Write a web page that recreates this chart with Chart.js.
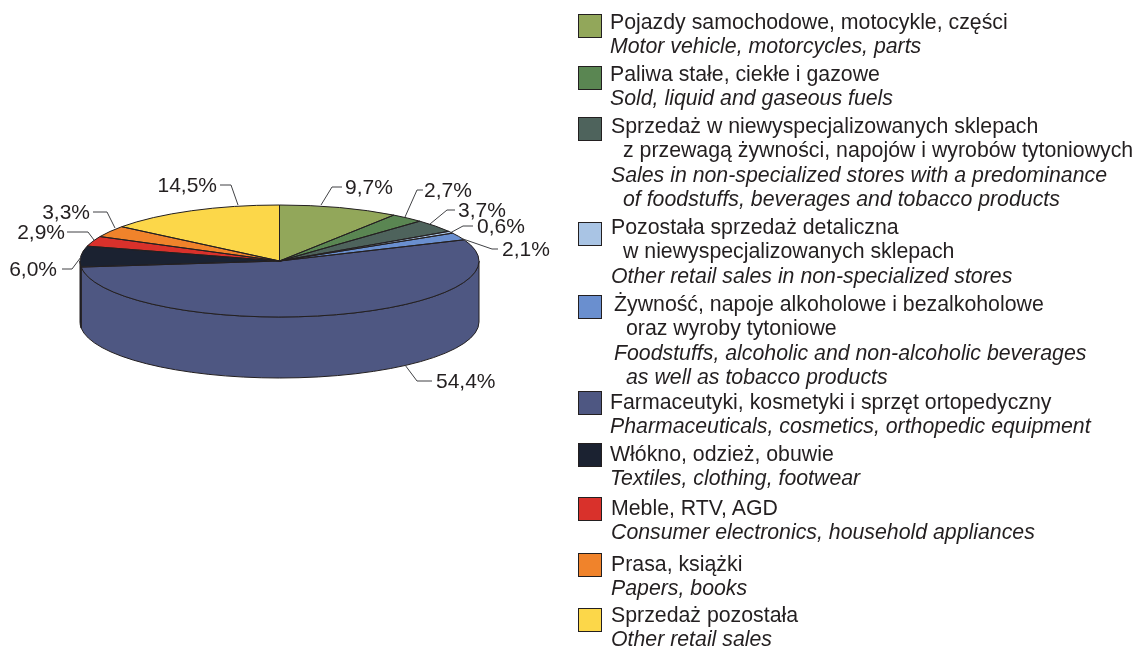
<!DOCTYPE html>
<html>
<head>
<meta charset="utf-8">
<script src="https://cdn.jsdelivr.net/npm/chart.js@4"></script>
<style>
  html, body { margin: 0; padding: 0; background: #fff; }
  #wrap { position: relative; width: 1137px; height: 648px; overflow: hidden; }
  #pie { position: absolute; left: 0; top: 0; }
  .swatch { position: absolute; left: 578px; width: 22px; height: 22px; border: 1px solid #231f20; }
  .line { position: absolute; white-space: pre; color: #231f20; height: 24px;
          font: 21.3px/24px "Liberation Sans", Arial, sans-serif; }
  .line.en { font-style: italic; }
</style>
</head>
<body>
<div id="wrap"><canvas id="pie" width="1137" height="648"></canvas></div>
<script>
const values = [9.7, 2.7, 3.7, 0.6, 2.1, 54.4, 6.0, 2.9, 3.3, 14.5];
const valueLabels = ["9,7%", "2,7%", "3,7%", "0,6%", "2,1%", "54,4%", "6,0%", "2,9%", "3,3%", "14,5%"];
const colors = ["#92a75a", "#5a8652", "#4e635c", "#a9c4e4", "#6a8fcf", "#4e5782", "#1b2231", "#d9312b", "#f0832b", "#fcd749"];

const polishNames = [
    ["Pojazdy samochodowe, motocykle, części"],
    ["Paliwa stałe, ciekłe i gazowe"],
    ["Sprzedaż w niewyspecjalizowanych sklepach", "z przewagą żywności, napojów i wyrobów tytoniowych"],
    ["Pozostała sprzedaż detaliczna", "w niewyspecjalizowanych sklepach"],
    ["Żywność, napoje alkoholowe i bezalkoholowe", "oraz wyroby tytoniowe"],
    ["Farmaceutyki, kosmetyki i sprzęt ortopedyczny"],
    ["Włókno, odzież, obuwie"],
    ["Meble, RTV, AGD"],
    ["Prasa, książki"],
    ["Sprzedaż pozostała"]
];
const englishNames = [
    ["Motor vehicle, motorcycles, parts"],
    ["Sold, liquid and gaseous fuels"],
    ["Sales in non-specialized stores with a predominance", "of foodstuffs, beverages and tobacco products"],
    ["Other retail sales in non-specialized stores"],
    ["Foodstuffs, alcoholic and non-alcoholic beverages", "as well as tobacco products"],
    ["Pharmaceuticals, cosmetics, orthopedic equipment"],
    ["Textiles, clothing, footwear"],
    ["Consumer electronics, household appliances"],
    ["Papers, books"],
    ["Other retail sales"]
];

// layout of the legend (y of swatch top, y of first text line centre, left of text)
const swatchTops = [14, 66, 117, 222, 295, 391, 443, 497, 553, 608];
const textTops = [22, 74, 126, 227, 304, 402, 454, 508, 564, 615];
const textLefts = [610, 610, 611, 611, 614, 610, 610, 611, 611, 611];

// leader lines: text anchor side first, then elbow, then point on the pie edge
const leaders = [
    [[342, 187], [332, 187], [321, 205]],
    [[423, 190], [417, 190], [405, 217]],
    [[455, 210], [447, 210], [430, 224]],
    [[473, 226], [463, 226], [450, 233]],
    [[498, 249], [492, 249], [463, 239]],
    [[432, 381], [417, 381], [405, 365]],
    [[62, 269], [72, 269], [81, 257]],
    [[67, 232], [88, 232], [94, 240]],
    [[93, 212], [107, 212], [115, 228]],
    [[220, 185], [231, 185], [238, 205]]
];
const labelAlign = ["left", "left", "left", "left", "left", "left", "right", "right", "right", "right"];
const labelNudge = [3, 1, 3, 4, 4, 4, -5, -2, -3, -3];

const centerY = 261, radiusY = 56, depth = 61, radiusX = 199.5;
const squash = radiusY / radiusX;
const ink = "#231f20";

function squashed(ctx, fn) {
    ctx.save();
    ctx.translate(0, centerY);
    ctx.scale(1, squash);
    ctx.translate(0, -centerY);
    fn();
    ctx.restore();
}

const tiltPlugin = {
    id: "tilt",
    beforeDatasetsDraw(chart) {
        const ctx = chart.ctx;
        const arcs = chart.getDatasetMeta(0).data;
        // side wall, only the half facing the viewer
        arcs.forEach(function (arc, i) {
            const s = Math.max(arc.startAngle, 0);
            const e = Math.min(arc.endAngle, Math.PI);
            if (e <= s) return;
            squashed(ctx, function () {
                ctx.beginPath();
                ctx.arc(arc.x, arc.y + depth / squash, arc.outerRadius, s, e);
                ctx.arc(arc.x, arc.y, arc.outerRadius, e, s, true);
                ctx.closePath();
            });
            ctx.fillStyle = colors[i];
            ctx.fill();
            ctx.strokeStyle = ink;
            ctx.lineWidth = 1;
            ctx.stroke();
        });
        ctx.save();
        ctx.translate(0, centerY);
        ctx.scale(1, squash);
        ctx.translate(0, -centerY);
    },
    afterDatasetsDraw(chart) {
        const ctx = chart.ctx;
        ctx.restore();
        const arcs = chart.getDatasetMeta(0).data;
        ctx.strokeStyle = ink;
        ctx.lineWidth = 1;
        arcs.forEach(function (arc) {
            squashed(ctx, function () {
                ctx.beginPath();
                ctx.moveTo(arc.x, arc.y);
                ctx.arc(arc.x, arc.y, arc.outerRadius, arc.startAngle, arc.endAngle);
                ctx.closePath();
            });
            ctx.stroke();
        });
        ctx.strokeStyle = "#404144";
        leaders.forEach(function (pts) {
            ctx.beginPath();
            ctx.moveTo(pts[0][0], pts[0][1]);
            ctx.lineTo(pts[1][0], pts[1][1]);
            ctx.lineTo(pts[2][0], pts[2][1]);
            ctx.stroke();
        });
        ctx.fillStyle = ink;
        ctx.font = '21px "Liberation Sans", Arial, sans-serif';
        ctx.textBaseline = "middle";
        valueLabels.forEach(function (txt, i) {
            ctx.textAlign = labelAlign[i];
            ctx.fillText(txt, leaders[i][0][0] + labelNudge[i], leaders[i][0][1] + 1);
        });
    }
};

new Chart(document.getElementById("pie"), {
    type: "pie",
    data: {
        labels: polishNames.map(function (n) { return n[0]; }),
        datasets: [{ data: values, backgroundColor: colors, borderWidth: 0 }]
    },
    options: {
        responsive: false,
        animation: false,
        layout: { padding: { left: 80, right: 1137 - 479, top: 61.5, bottom: 648 - 460.5 } },
        plugins: { legend: { display: false }, tooltip: { enabled: false } },
        events: []
    },
    plugins: [tiltPlugin]
});

// legend
const wrap = document.getElementById("wrap");
function addLine(txt, x, y, cls) {
    const d = document.createElement("div");
    d.className = "line " + cls;
    d.textContent = txt;
    d.style.left = x + "px";
    d.style.top = (y - 12) + "px";
    wrap.appendChild(d);
}
polishNames.forEach(function (names, i) {
    const sw = document.createElement("div");
    sw.className = "swatch";
    sw.style.top = swatchTops[i] + "px";
    sw.style.background = colors[i];
    wrap.appendChild(sw);
    let y = textTops[i];
    names.forEach(function (txt, k) {
        addLine(txt, textLefts[i] + (k ? 12 : 0), y, "pl");
        y += 24.3;
    });
    englishNames[i].forEach(function (txt, k) {
        addLine(txt, textLefts[i] + (k ? 12 : 0), y, "en");
        y += 24.3;
    });
});
</script>
</body>
</html>
